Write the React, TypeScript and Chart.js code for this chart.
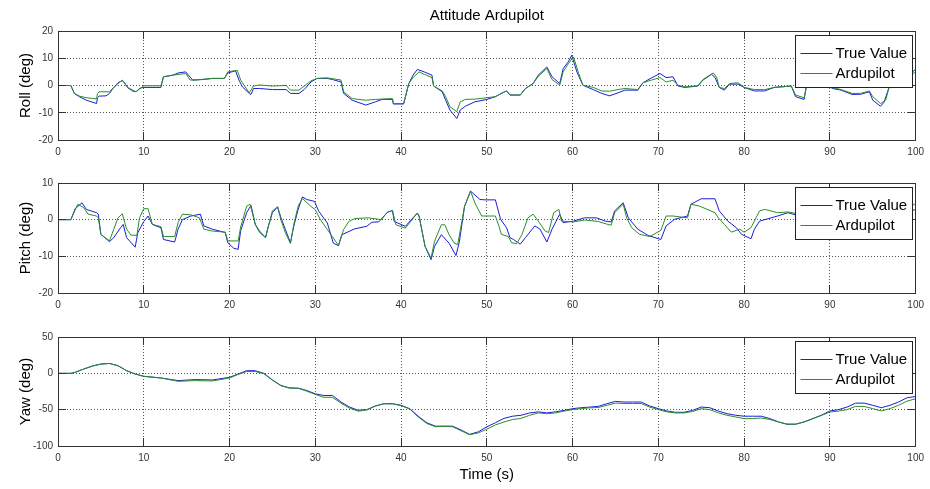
import React, { useEffect, useRef } from 'react';
import { Chart, registerables } from 'chart.js';

Chart.register(...registerables);

// ---------------- data ----------------
const X_TICK_STEP = 10;
const SERIES_LABELS = ['True Value', 'Ardupilot'];

// Roll
const rollTrueT = [0,1.5,1.9,2.5,3.3,4.5,4.6,4.8,5.6,6,
  6.4,7,7.5,7.8,8.1,8.7,9.1,9.5,9.9,12,
  12.3,13.4,14,14.9,15.1,15.7,16.9,18,19.4,19.8,
  20.7,21.1,21.5,22.3,22.5,22.8,23.5,25,26.6,27.1,
  28.1,28.7,29.5,30.2,31.4,32,33,33.3,34.3,35.9,
  37,37.8,39,39.1,40.3,40.9,41.4,41.9,42.7,43.6,
  43.8,44.8,45.2,45.7,46.5,46.9,47.5,48.6,50,51,
  51.7,52.3,52.7,53.9,54.5,55.4,56,57,57.6,58.5,
  58.9,59.5,59.9,60.5,61.2,62.4,63.4,64.3,65.3,66.1,
  67.6,68.2,69.2,70.2,70.9,71.7,72.3,73.1,74.6,75.2,
  76.2,76.6,77.1,77.7,78.3,79.3,80,81.2,82.4,83.5,
  85.5,86,87,87.3,88.5,89.5,90.3,91.3,92.6,93.6,
  94.6,95,95.9,96.3,96.9,97.8,99,100];
const rollTrueV = [0,0,-2.9,-4.1,-5.4,-6.6,-4.5,-3.9,-3.8,-2.9,
  -1.1,1.0,1.8,0.8,-0.7,-2,-2.3,-1.1,-0.7,-0.7,
  3.2,3.8,4.6,5.0,4.2,2.0,2.2,2.6,2.6,4.6,
  5.4,2.0,-0.5,-2.9,-3.3,-1.1,-1.1,-1.5,-1.5,-2.9,
  -2.9,-1.5,1.3,2.6,2.6,2.2,1.3,-2.9,-5.4,-7.2,
  -6,-5.1,-5.1,-6.8,-6.8,0.7,3.8,5.9,5.0,3.8,
  -0.2,-2.3,-5.4,-9,-12.1,-9,-7.6,-6,-5.1,-4.1,
  -2.9,-2,-3.5,-3.5,-1.1,0.7,3.8,6.8,3.2,0.7,
  6.2,8.7,11.1,5,0.1,-1.5,-2.9,-3.8,-2.7,-1.7,
  -1.7,1,2.8,4.4,2.9,3.2,-0.2,-0.7,-0.2,2,
  4.1,3.0,-0.7,-1.7,0.5,0.5,-0.7,-2,-2,-0.7,
  -0.2,-4.1,-5.1,0.7,1.5,0.5,-1.1,-1.7,-3.3,-3.2,
  -2.3,-5.4,-7.6,-6.2,-0.7,2.5,3.5,5.9];
const rollArduT = [0,1.5,1.9,2.5,3.3,4.5,4.6,4.8,6,7,
  7.5,8.1,9.1,10,12,12.3,13.4,14.9,15.4,16,
  18,19.4,19.8,20.9,21.3,22.3,22.8,23.5,25,26.6,
  27.1,28.1,29.5,30.2,31.4,33,33.3,34.3,35.9,37,
  39,39.1,40.3,40.9,41.4,42.1,42.7,43.6,43.8,44.8,
  45.2,45.7,46.5,46.9,47.5,48.6,50,51,51.7,52.3,
  52.7,53.9,54.5,55.4,56,57,57.6,58.5,58.9,59.5,
  60.1,60.7,61.2,62.4,63.4,64.3,65.3,66.1,67.6,68.2,
  69.2,70.2,70.9,71.7,72.3,73.1,74.6,75.2,76.4,76.8,
  77.1,77.7,78.3,79.3,80,81.2,82.4,83.5,85.5,86,
  87,87.3,88.5,89.5,90.3,91.3,92.6,93.6,94.6,95,
  95.9,96.5,96.9,97.8,99,100];
const rollArduV = [0,0,-2.9,-3.9,-4.5,-4.9,-3,-2.3,-2.3,0.7,
  2.0,-0.7,-2.3,-0.1,-0.1,3.2,3.8,4.4,2.0,2.0,
  2.6,2.6,5.0,5.6,2.0,-2.7,-0.2,0.2,-0.2,0,
  -1.7,-1.7,1.7,2.6,2.8,2.0,-2.3,-4.8,-5.4,-5.1,
  -4.8,-6.6,-6.6,0.7,2.9,5.0,4.1,2.9,-0.2,-2.0,
  -4.1,-7.8,-9.6,-6,-5.1,-5.0,-4.5,-4.1,-2.9,-2.0,
  -3.5,-3.5,-1.1,0.7,3.4,6.2,2.2,0.1,5,8,
  10.5,4.5,0.1,-0.7,-2.0,-2.1,-1.5,-1.1,-1.5,1.0,
  2.0,2.9,1.3,1.9,0.1,-0.5,-0.1,2.2,4.6,3.0,
  -0.7,-1.1,0.7,1.0,-0.7,-1.5,-1.5,-0.7,-0.2,-3.5,
  -4.5,0.2,1.2,0.3,-0.7,-1.5,-2.9,-2.9,-2.0,-4.1,
  -6.6,-5.4,-0.7,2.0,3.0,5.0];

// Pitch
const pitchTrueT = [0,1.5,2,2.8,3.3,4.5,4.7,5,6,6.5,
  7.3,7.6,8,9,9.3,10,10.5,11,12,12.3,
  13.6,14,14.5,15.5,16.6,17,18,19.5,19.8,20.5,
  21,21.3,22,22.5,23,23.5,24.2,24.5,25,25.6,
  26,26.5,27.1,27.5,28,28.5,29,29.9,30.4,31.4,
  32.1,32.7,33.1,34.6,36,36.6,37.4,38.4,39,39.2,
  40.5,41.9,42.1,42.8,43.5,43.9,44.7,45.6,46.4,46.8,
  47.4,48.1,49.2,49.8,51,51.6,52.3,52.7,53.1,53.9,
  54.5,55.6,56.2,57,57.6,58.5,58.9,60.1,61.4,62.8,
  63.8,64.5,64.9,65.9,66.5,67.6,68.8,70,70.3,70.9,
  71.9,73.4,73.8,75,76.6,77.1,78.1,79.1,79.7,80.8,
  81.2,81.8,83.9,85.1,86.5,88,90,91.5,92.5,92.8,
  93.2,94.5,96,97.5,99,100];
const pitchTrueV = [0,0,3,4.6,2.8,1.9,1.5,-4,-6,-4.9,
  -2.2,-1.3,-4.9,-7.5,-3.6,-0.5,1.0,-1.3,-2.2,-5.4,
  -6.1,-2.6,0,1.0,1.5,-1.7,-2.6,-3.5,-6.3,-7.8,
  -8.1,-3,1.9,3.9,-1.3,-3.1,-4.9,-2,1.9,3.5,
  0.5,-2.6,-6.3,-1.7,2.8,6.2,5.5,5.0,2.3,-0.9,
  -6.4,-7.1,-4.1,-2.5,-1.8,-0.7,-0.6,2.0,2.5,-0.5,
  -1.8,1.8,1.0,-7.3,-10.9,-7.3,-4.1,-6.4,-9.8,-6,
  3.6,7.8,5.5,5.4,5.4,0.1,-2.2,-4.9,-5.4,-6.7,
  -4.9,-1.7,-2.6,-6.1,-2.6,1.5,-0.8,-0.4,0.5,0.5,
  -0.4,-0.6,2.4,4.6,0.5,-2.6,-4.3,-5.2,-5.4,-1.7,
  0.1,1.0,4.2,5.7,5.7,2.4,-0.4,-2.2,-4,-5.2,
  -2.6,-0.4,1.0,1.9,1.0,-1,2,4,7,8.9,
  4,1,-2,0,2,2.8];
const pitchArduT = [0,1.5,2.3,3,3.5,4.5,4.7,5,6,6.5,
  7,7.5,8,8.5,9.2,9.5,10,10.5,11,12,
  12.3,13.6,14,14.5,15.5,16.5,17,18,19.5,19.8,
  21,21.3,22,22.4,23,23.5,24.2,24.5,25,25.6,
  26,26.5,27.1,27.5,28,28.5,29.5,30,30.6,31.4,
  32.1,32.7,33.3,33.9,34.6,36.2,37.7,38.4,39,39.4,
  40.5,41.9,42.1,42.8,43.5,43.9,44.7,45.1,45.6,46.2,
  46.6,46.9,47.4,48.1,48.6,49.4,51,51.4,51.7,52.5,
  52.9,53.5,54.1,54.8,55.4,56,56.8,57.2,57.8,58.4,
  58.7,60.1,61.4,63,64.1,64.5,64.9,65.9,66.3,66.9,
  67.8,69,70,70.3,70.9,71.7,73.4,73.8,74.8,76.6,
  77,77.7,78.5,79.5,80,80.8,81.8,82.4,83.9,85.1,
  86.5,88,90,91.5,93,94.5,96,97.5,99,100];
const pitchArduV = [0,0,4.2,3.3,1.5,1.0,0.5,-4,-5.8,-2.6,
  0.5,1.6,-2.6,-4.2,-4.3,0.5,3,3,-1.3,-1.9,
  -4.6,-4.6,-0.8,1.5,1.3,0.5,-2.6,-3.1,-3.4,-5.8,
  -5.8,-2,3.7,4.2,-1.3,-3.5,-4.9,-2,2.4,3.5,
  -0.1,-3.5,-6.5,-1.2,3.7,5.8,3.6,2.7,0,-2.7,
  -5,-7,-2.7,-0.5,0.3,0.5,0,2.0,2.5,-1.4,
  -2.3,1.8,1.0,-7.3,-10.5,-5.9,-1.4,-1.4,-4.1,-6.4,
  -6.8,-3,3.6,7.8,4.6,1.0,1.0,-1.7,-4,-4.6,
  -6.3,-6.5,-4,0.5,1.5,-0.4,-3.1,-3.5,1.9,2.8,
  -0.4,-0.6,-0.1,-0.5,-1.3,-1.5,1.9,4.2,0.5,-2.2,
  -4,-4.6,-3.3,-2.9,1.0,1.0,0.5,4.2,3.7,1.9,
  0.5,-1.3,-3.4,-2.6,-3.4,-2.2,2.4,2.8,1.9,2.1,
  1.5,0,-1,1,3,1,-1,1,3,4.4];

// Yaw
const yawT = [0,1.5,2,3,4,5,6,7,8,9,
  10,12,14,16,18,20,21,22,23,24,
  25,26,27,28,29,30,31,32,33,34,
  35,36,37,38,39,40,41,42,43,44,
  45,46,47,48,49,50,51,52,53,54,
  55,56,57,58,59,60,61,62,63,64,
  65,66,67,68,69,70,71,72,73,74,
  75,76,77,78,79,80,81,82,83,84,
  85,86,87,88,89,90,91,92,93,94,
  95,96,97,98,99,100];
const yawTrueV = [0,0,1.4,5.9,10,12.7,13.6,10.5,3.6,-0.9,
  -4.1,-6.4,-10,-8.6,-9.1,-5.5,-0.9,3.6,3.6,0,
  -9.1,-16.8,-20,-20.5,-23.6,-28.2,-30.5,-30.5,-39.5,-46.4,
  -50.9,-50,-45,-41.8,-41.8,-44,-48.6,-59,-68,-72.7,
  -72.7,-72.7,-78,-84,-80.5,-73.6,-68,-62,-59,-57.7,
  -54.5,-53,-54.5,-53,-51,-48.6,-47.3,-46.4,-45.5,-41.8,
  -38.6,-39.5,-39.5,-39.5,-45,-48.6,-51.8,-53.6,-53.6,-51,
  -46.4,-47.3,-52,-55.5,-57.7,-59,-59,-59,-62.3,-66.8,
  -70,-70,-66.8,-62.3,-57.7,-51.8,-50,-46.4,-41,-41,
  -44,-47.3,-44,-39.5,-33.6,-31.8];
const yawArduV = [0,0,1.4,5.9,10,12.7,13.6,10.5,3.6,-0.9,
  -4.1,-6.4,-11,-10,-10.5,-6.5,-1.5,2.5,2.5,-0.5,
  -9.5,-17,-20.5,-20.5,-24.5,-29,-33,-33,-41,-48,
  -52,-50.5,-45,-41.8,-42,-44.5,-49,-60,-69,-73.5,
  -73,-73.5,-79,-84.5,-82,-76.8,-71,-67,-63.6,-62,
  -57.7,-54.5,-55.5,-54.5,-52,-50,-48.5,-47.5,-47,-44,
  -41,-41.5,-41.5,-41.5,-46.5,-50,-53,-54.5,-54.5,-52.5,
  -48.6,-50,-54.5,-57.7,-60,-62.3,-62.3,-61.5,-63.5,-67,
  -70,-70,-67,-62.5,-58,-53.2,-52,-50,-45.5,-45.5,
  -48.6,-51.8,-48.6,-44,-38.2,-35];

// ---------------- styling ----------------
const FONT = '"Liberation Sans", Arial, Helvetica, sans-serif';
const BLUE = '#1c1cd8';
const GREEN = '#2a8f2a';
const AXIS = '#333333';

const pts = (t: number[], v: number[]) => t.map((x, i) => ({ x, y: v[i] }));

const framePlugin = {
  id: 'matlabFrame',
  afterDatasetsDraw(chart: any) {
    const { ctx, chartArea: a } = chart;
    const xs = chart.scales.x;
    const ys = chart.scales.y;
    const L = 8;
    ctx.save();
    ctx.strokeStyle = AXIS;
    ctx.lineWidth = 1;
    ctx.setLineDash([]);
    ctx.beginPath();
    xs.ticks.forEach((t: any) => {
      const px = Math.round(xs.getPixelForValue(t.value) - 0.5) + 0.5;
      ctx.moveTo(px, a.top);
      ctx.lineTo(px, a.top + L);
      ctx.moveTo(px, a.bottom);
      ctx.lineTo(px, a.bottom - L);
    });
    ys.ticks.forEach((t: any) => {
      const py = Math.round(ys.getPixelForValue(t.value) - 0.5) + 0.5;
      ctx.moveTo(a.left, py);
      ctx.lineTo(a.left + L, py);
      ctx.moveTo(a.right, py);
      ctx.lineTo(a.right - L, py);
    });
    ctx.stroke();
    const l = Math.round(a.left - 0.5) + 0.5;
    const tp = Math.round(a.top - 0.5) + 0.5;
    const r = Math.round(a.right - 0.5) + 0.5;
    const b = Math.round(a.bottom - 0.5) + 0.5;
    ctx.strokeRect(l, tp, r - l, b - tp);

    // legend box
    const w = 117;
    const h = 52;
    const x0 = Math.round(a.right - 4 - w) + 0.5;
    const y0 = Math.round(a.top + 4) + 0.5;
    ctx.fillStyle = '#ffffff';
    ctx.fillRect(x0, y0, w, h);
    ctx.strokeStyle = '#222222';
    ctx.strokeRect(x0, y0, w, h);
    ctx.font = '15px ' + FONT;
    ctx.textBaseline = 'middle';
    ctx.textAlign = 'left';
    chart.data.datasets.forEach((ds: any, i: number) => {
      const ly = Math.round(y0 + 17 + i * 20) + 0.5;
      ctx.strokeStyle = ds.borderColor;
      ctx.beginPath();
      ctx.moveTo(x0 + 5, ly);
      ctx.lineTo(x0 + 37, ly);
      ctx.stroke();
      ctx.fillStyle = '#000000';
      ctx.fillText(ds.label, x0 + 40, ly);
    });
    ctx.restore();
  },
};

type PanelCfg = {
  top: number;
  height: number;
  padTop: number;
  xAxisH: number;
  yLabel: string;
  yMin: number;
  yMax: number;
  yStep: number;
  trueT: number[];
  trueV: number[];
  arduT: number[];
  arduV: number[];
  title?: string;
  xTitle?: string;
};

const panels: PanelCfg[] = [
  { top: 0, height: 165, padTop: 0, xAxisH: 25, yLabel: 'Roll (deg)', yMin: -20, yMax: 20, yStep: 10,
    trueT: rollTrueT, trueV: rollTrueV, arduT: rollArduT, arduV: rollArduV, title: 'Attitude Ardupilot' },
  { top: 165, height: 155, padTop: 18, xAxisH: 27, yLabel: 'Pitch (deg)', yMin: -20, yMax: 10, yStep: 10,
    trueT: pitchTrueT, trueV: pitchTrueV, arduT: pitchArduT, arduV: pitchArduV },
  { top: 320, height: 169, padTop: 17, xAxisH: 43, yLabel: 'Yaw (deg)', yMin: -100, yMax: 50, yStep: 50,
    trueT: yawT, trueV: yawTrueV, arduT: yawT, arduV: yawArduV, xTitle: 'Time (s)' },
];

function makeConfig(p: PanelCfg): any {
  const tickFont = { family: FONT, size: 10 };
  return {
    type: 'line',
    data: {
      datasets: [
        { label: SERIES_LABELS[0], data: pts(p.trueT, p.trueV), borderColor: BLUE, borderWidth: 1,
          pointRadius: 0, tension: 0, fill: false, order: 1 },
        { label: SERIES_LABELS[1], data: pts(p.arduT, p.arduV), borderColor: GREEN, borderWidth: 1,
          pointRadius: 0, tension: 0, fill: false, order: 0 },
      ],
    },
    options: {
      responsive: false,
      maintainAspectRatio: false,
      animation: false,
      devicePixelRatio: 1,
      events: [],
      layout: { padding: { left: 0, right: 12, top: p.padTop, bottom: 0 } },
      plugins: {
        legend: { display: false },
        tooltip: { enabled: false },
        title: p.title
          ? { display: true, text: p.title, fullSize: false, color: '#000',
              font: { family: FONT, size: 15, weight: 'normal' }, padding: { top: 7, bottom: 6 } }
          : { display: false },
      },
      scales: {
        x: {
          type: 'linear', min: 0, max: 100,
          ticks: { stepSize: X_TICK_STEP, padding: 6, color: '#333', font: tickFont, maxRotation: 0, autoSkip: false },
          grid: { color: '#555', lineWidth: 1, drawTicks: false },
          border: { display: false, dash: [1, 2] },
          title: p.xTitle
            ? { display: true, text: p.xTitle, color: '#000', font: { family: FONT, size: 15 }, padding: { top: 0, bottom: 5 } }
            : { display: false },
          afterFit: (s: any) => { s.height = p.xAxisH; },
        },
        y: {
          type: 'linear', min: p.yMin, max: p.yMax,
          ticks: { stepSize: p.yStep, padding: 5, color: '#333', font: tickFont },
          grid: { color: '#555', lineWidth: 1, drawTicks: false },
          border: { display: false, dash: [1, 2] },
          title: { display: true, text: p.yLabel, color: '#000', font: { family: FONT, size: 15 }, padding: { top: 17, bottom: 0 } },
          afterFit: (s: any) => { s.width = 58; },
        },
      },
    },
    plugins: [framePlugin],
  };
}

function Panel({ cfg }: { cfg: PanelCfg }) {
  const ref = useRef<HTMLCanvasElement | null>(null);
  useEffect(() => {
    if (!ref.current) return;
    const chart = new Chart(ref.current, makeConfig(cfg));
    return () => chart.destroy();
  }, [cfg]);
  return (
    <canvas
      ref={ref}
      width={930}
      height={cfg.height}
      style={{ position: 'absolute', left: 0, top: cfg.top, width: 930, height: cfg.height }}
    />
  );
}

export default function App() {
  return (
    <div style={{ position: 'absolute', left: 0, top: 0, width: 930, height: 489, background: '#fff', overflow: 'hidden' }}>
      {panels.map((p, i) => (
        <Panel key={i} cfg={p} />
      ))}
    </div>
  );
}
